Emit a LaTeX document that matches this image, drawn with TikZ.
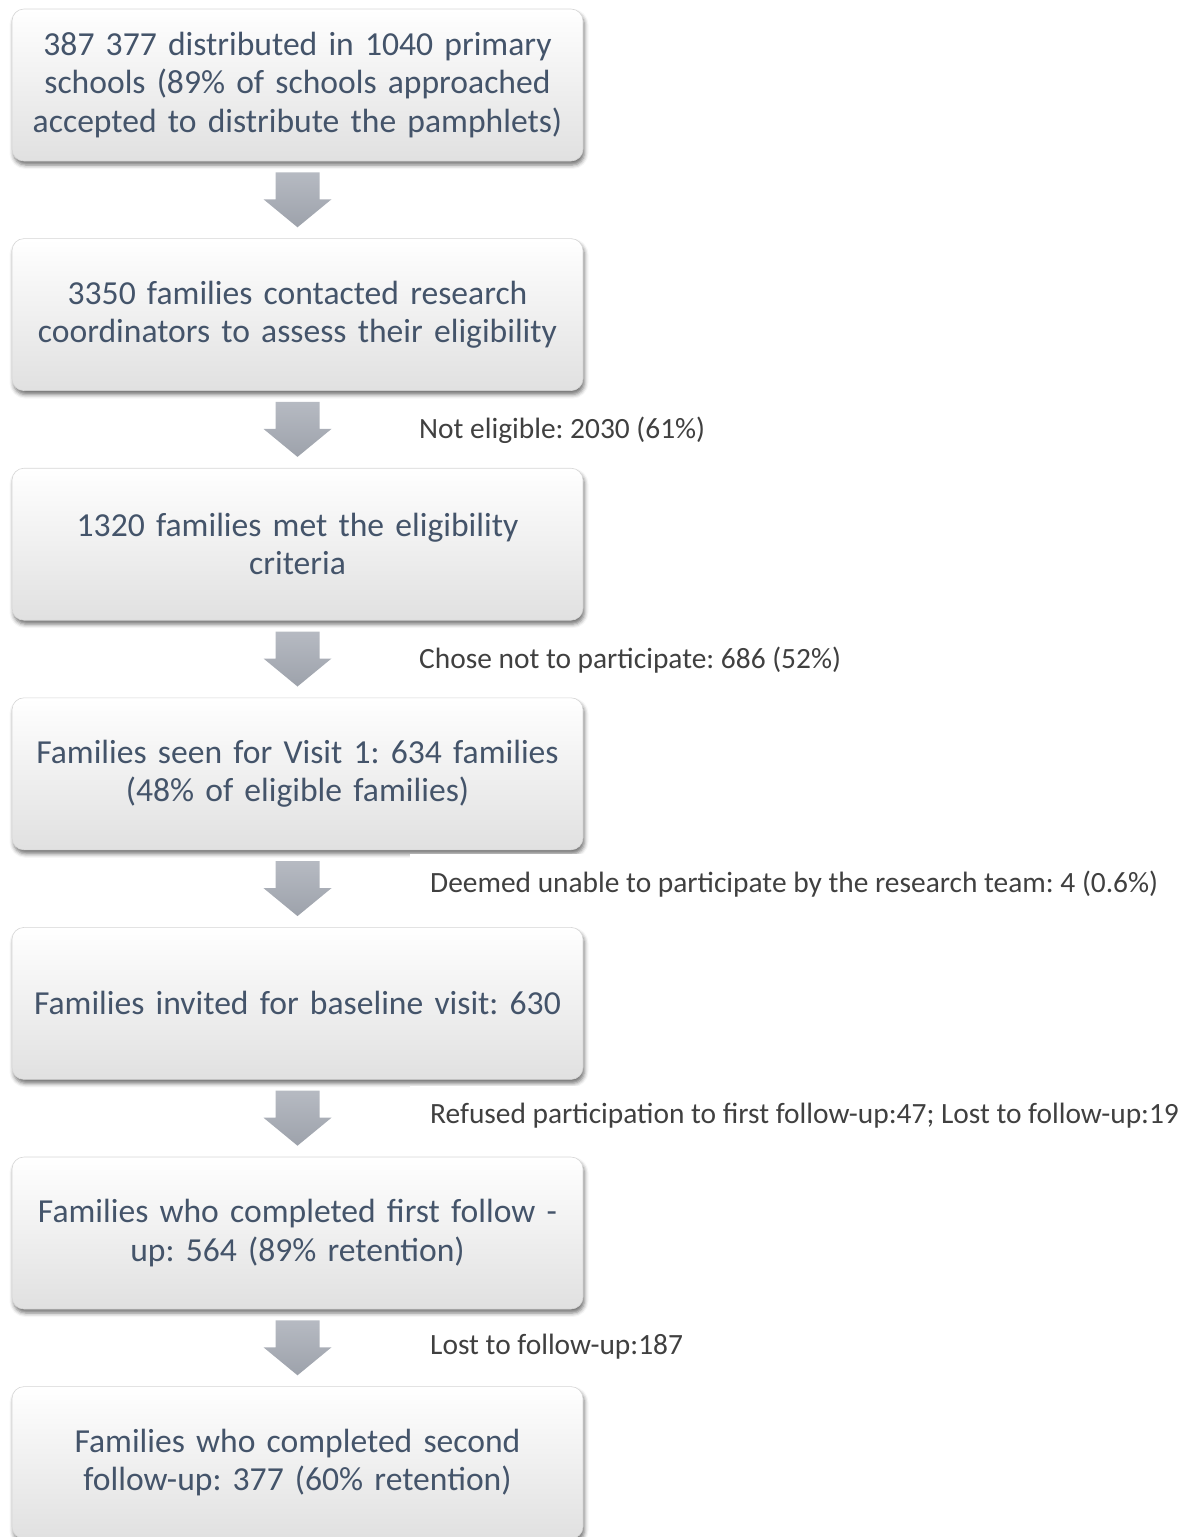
\documentclass[tikz,border=0pt]{standalone}
\usepackage{fontspec}
\setmainfont{Carlito}
\frenchspacing
\usetikzlibrary{shadows.blur,calc}
\definecolor{boxtext}{HTML}{44546A}
\definecolor{labtext}{HTML}{404040}
\definecolor{arrtop}{HTML}{B6BAC2}
\definecolor{arrbot}{HTML}{9DA2AB}
\begin{document}
\begin{tikzpicture}[x=1pt,y=-1pt,
  flowbox/.style={rectangle, rounded corners=12pt, minimum width=571pt, minimum height=152pt,
    top color=white, middle color=white, bottom color=white!88!black,
    draw=white!84!black, line width=0.6pt,
    blur shadow={shadow xshift=1.5pt, shadow yshift=-4pt, shadow blur radius=4pt, shadow opacity=55},
    align=center, text width=565pt, text=boxtext, font=\fontsize{33.6}{38.5}\selectfont, inner sep=0pt},
  droplabel/.style={anchor=west, fill=white, inner xsep=20pt, inner ysep=0pt, minimum height=60pt,
    text=labtext, font=\fontsize{29.4}{34}\selectfont},
  blockarrow/.style={top color=arrtop, bottom color=arrbot, draw=none}
]
\useasboundingbox (0,0) rectangle (1194,1537);

\node[flowbox] (b1) at (297.5,85)   {387 377 distributed in 1040 primary\\schools (89\% of schools approached\\accepted to distribute the pamphlets)};
\node[flowbox] (b2) at (297.5,314.6) {3350 families contacted research\\coordinators to assess their eligibility};
\node[flowbox] (b3) at (297.5,544.2) {1320 families met the eligibility\\criteria};
\node[flowbox] (b4) at (297.5,773.8) {Families seen for Visit 1: 634 families\\(48\% of eligible families)};
\node[flowbox] (b5) at (297.5,1003.4) {Families invited for baseline visit: 630};
\node[flowbox] (b6) at (297.5,1233) {Families who completed first follow -\\up: 564 (89\% retention)};
\node[flowbox] (b7) at (297.5,1462.6) {Families who completed second\\follow-up: 377 (60\% retention)};

\node[droplabel] (l1) at (399,430)  {Not eligible: 2030 (61\%)};
\node[droplabel] (l2) at (399,660)  {Chose not to participate: 686 (52\%)};
\node[droplabel] (l3) at (410,884)  {Deemed unable to participate by the research team: 4 (0.6\%)};
\node[droplabel] (l4) at (410,1116) {Refused participation to first follow-up:47; Lost to follow-up:19};
\node[droplabel] (l5) at (410,1347) {Lost to follow-up:187};

\foreach \i/\j in {1/2,2/3,3/4,4/5,5/6,6/7}{
  \coordinate (t\i) at ($(b\i.south)+(0,11)$);
  \coordinate (h\i) at ($(b\j.north)+(0,-11)$);
  \path[blockarrow] ($(t\i)+(-22,0)$) -- ($(t\i)+(22,0)$) -- ($(h\i)+(22,-28)$) -- ($(h\i)+(34,-28)$)
     -- (h\i) -- ($(h\i)+(-34,-28)$) -- ($(h\i)+(-22,-28)$) -- cycle;
}
\end{tikzpicture}
\end{document}
